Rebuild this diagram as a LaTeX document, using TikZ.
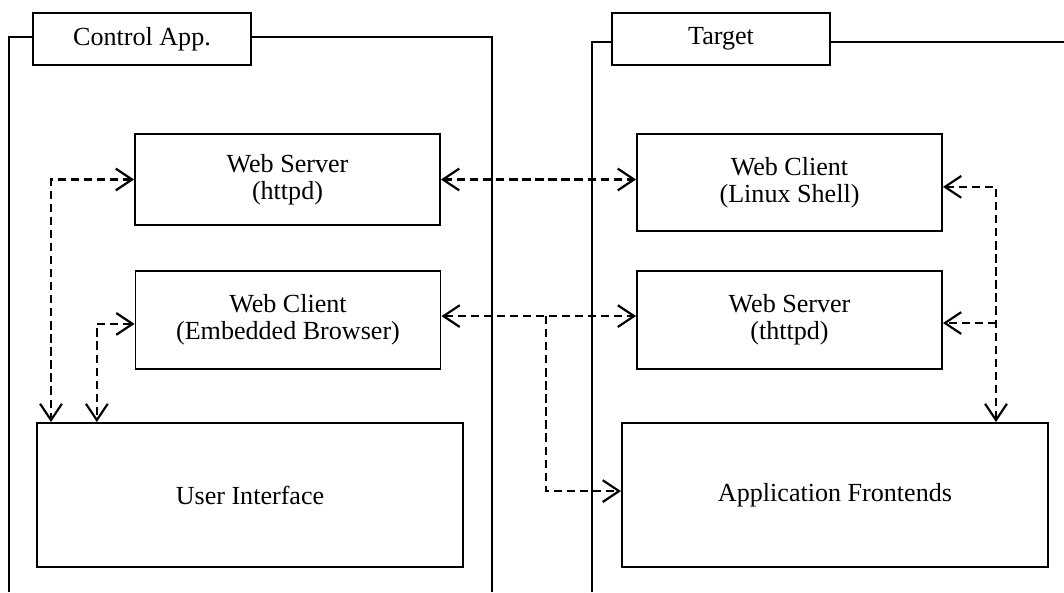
\documentclass[tikz,border=0pt]{standalone}
\usepackage{fontspec}
\setmainfont{Liberation Serif}
\usepackage{tikz}
\usetikzlibrary{arrows.meta}

\begin{document}
\begin{tikzpicture}[x=0.46pt,y=-0.46pt,>={Straight Barb[length=7.5pt,width=10pt]},
    font=\fontsize{12}{12.5}\selectfont]
  \tikzstyle{frame}=[line width=0.9pt]
  \tikzstyle{tab}=[rectangle,draw,line width=0.9pt,fill=white,
                   minimum width=100.3pt,minimum height=23.9pt,inner sep=0pt]
  \tikzstyle{box}=[rectangle,draw,line width=0.9pt,align=center,
                   minimum width=140.3pt,minimum height=45.1pt,inner sep=0pt]
  \tikzstyle{big box}=[box,minimum width=196pt,minimum height=66.2pt]
  \tikzstyle{link}=[line width=1pt,dash pattern=on 3.8pt off 2.2pt]
  \useasboundingbox (0,0) rectangle (1064,592);

  % control application side
  \node [tab] (ctltab) at (142,39) {Control App.};
  \draw [frame] (9,592) -- (9,37) -- (ctltab.west |- 0,37);
  \draw [frame] (ctltab.east |- 0,37) -- (492,37) -- (492,592);
  \node [box,minimum height=41.9pt] (httpd) at (287.5,179.5) {Web Server\\(httpd)};
  \node [box] (ebrowser) at (288,320) {Web Client\\(Embedded Browser)};
  \node [big box] (ui) at (250,495) {User Interface};

  % target side
  \node [tab] (tgttab) at (721,39) {Target};
  \draw [frame] (592,592) -- (592,42) -- (tgttab.west |- 0,42);
  \draw [frame] (tgttab.east |- 0,42) -- (1064,42);
  \node [box,minimum height=44.6pt] (lshell) at (789.5,182.5) {Web Client\\(Linux Shell)};
  \node [box] (thttpd) at (789.5,320) {Web Server\\(thttpd)};
  \node [big box] (appfe) at (835,495) {Application Frontends};

  % connections
  \coordinate (br) at ([yshift=1.8pt]ebrowser.east);
  \coordinate (split) at (br -| 546,0);
  \coordinate (ldrop) at ([xshift=6.9pt]ui.north west);
  \coordinate (lbdrop) at ([xshift=28pt]ui.north west);
  \coordinate (rdrop) at ([xshift=-24.4pt]appfe.north east);
  \coordinate (rjoin) at ([yshift=-1.4pt]thttpd.east);

  \draw [link,<->] (httpd.east) -- (httpd.east -| lshell.west);
  \draw [link,<->] (br) -- (br -| thttpd.west);
  \draw [link,->] (split) |- ([yshift=1.8pt]appfe.west);
  \draw [link,<->] (httpd.west) -| (ldrop);
  \draw [link,<->] ([yshift=-1.8pt]ebrowser.west) -| (lbdrop);
  \draw [link,<->] ([yshift=-2pt]lshell.east) -| (rdrop);
  \draw [link,->] (rjoin -| rdrop) -- (rjoin);
\end{tikzpicture}
\end{document}
